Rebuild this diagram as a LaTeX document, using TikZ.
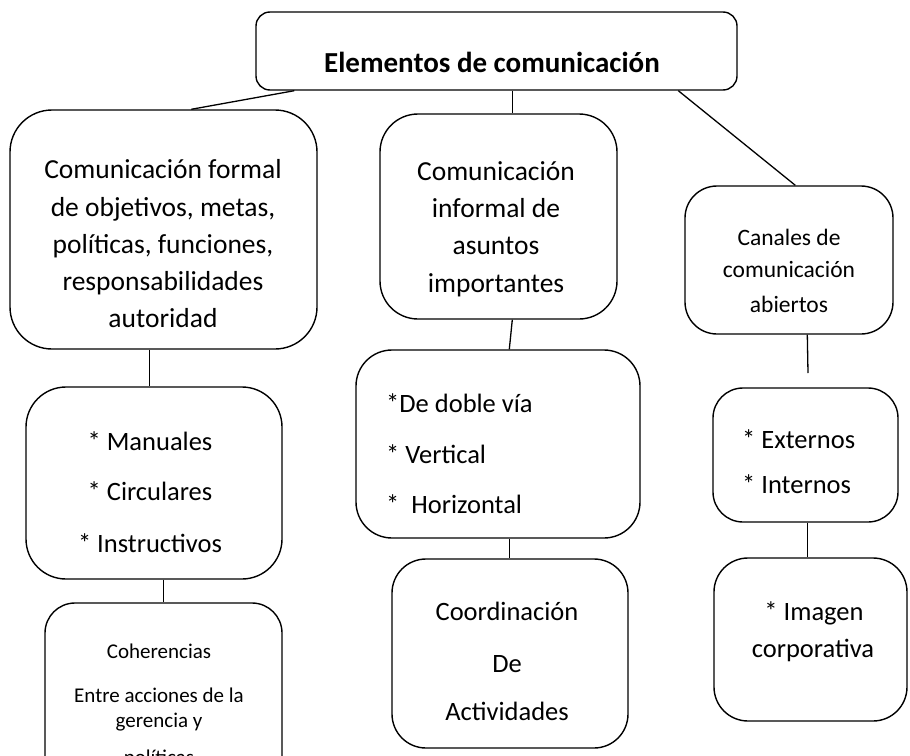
\documentclass[tikz,border=0pt]{standalone}
\usepackage{fontspec}
\setmainfont{Carlito}
\usetikzlibrary{calc}
\begin{document}
\begin{tikzpicture}[x=1pt,y=-1pt,
  box/.style={draw=black, line width=1.4pt, inner sep=0pt},
  conn/.style={draw=black, line width=1.3pt},
  txt/.style={anchor=base, inner sep=0pt, text=black},
  big/.style={txt, font=\fontsize{27.5}{33}\selectfont},
  med/.style={txt, font=\fontsize{26.5}{32}\selectfont},
  can/.style={txt, font=\fontsize{23.5}{28}\selectfont},
  sml/.style={txt, font=\fontsize{21}{25}\selectfont},
  ttl/.style={txt, font=\fontsize{29}{35}\selectfont\bfseries}]
\useasboundingbox (0,0) rectangle (910,755);
\clip (0,0) rectangle (910,755);
% boxes
\node[box, rounded corners=14pt, minimum width=481pt, minimum height=78pt] (top) at (496.5,51) {};
\node[box, rounded corners=42pt, minimum width=307pt, minimum height=239pt] (L1) at (163.5,229.5) {};
\node[box, rounded corners=38pt, minimum width=237pt, minimum height=205pt] (M1) at (498.5,216.5) {};
\node[box, rounded corners=32pt, minimum width=208pt, minimum height=148pt] (R1) at (789,260) {};
\node[box, rounded corners=40pt, minimum width=256pt, minimum height=192pt] (L2) at (154,483) {};
\node[box, rounded corners=36pt, minimum width=284pt, minimum height=188pt] (M2) at (498,444) {};
\node[box, rounded corners=30pt, minimum width=237pt, minimum height=187pt] (L3) at (163.5,696.5) {};
\node[box, rounded corners=34pt, minimum width=236pt, minimum height=189pt] (M3) at (510,653.5) {};
\node[box, rounded corners=30pt, minimum width=185pt, minimum height=134pt] (R2) at (805.5,455) {};
\node[box, rounded corners=34pt, minimum width=193pt, minimum height=163pt] (R3) at (810.5,639.5) {};
\coordinate (rend) at (808,373);
% connectors
\draw[conn] ($(top.south west)+(39,0)$) -- ($(L1.north west)+(182,0)$);
\draw[conn] ($(top.south west)+(257,0)$) -- ($(M1.north west)+(133,0)$);
\draw[conn] ($(top.south west)+(423,0)$) -- ($(R1.north west)+(111,0)$);
\draw[conn] ($(L1.south west)+(140,0)$) -- ($(L2.north west)+(124,0)$);
\draw[conn] ($(M1.south west)+(133,0)$) -- ($(M2.north west)+(154,0)$);
\draw[conn] ($(R1.south west)+(123,0)$) -- (rend);
\draw[conn] ($(L2.south west)+(138,0)$) -- ($(L3.north west)+(119,0)$);
\draw[conn] ($(M2.south west)+(154,0)$) -- ($(M3.north west)+(118,0)$);
\draw[conn] ($(R2.south west)+(95,0)$) -- ($(R3.north west)+(94,0)$);
% texts
\node[ttl] (t0) at (492,72) {Elementos de comunicación};
\node[big] (l1a) at (163,178) {Comunicación formal};
\node[big] (l1b) at (163,216) {de objetivos, metas,};
\node[big] (l1c) at (163,253) {políticas, funciones,};
\node[big] (l1d) at (163,290) {responsabilidades};
\node[big] (l1e) at (163,327) {autoridad};
\node[big] (m1a) at (496,180) {Comunicación};
\node[big] (m1b) at (496,217) {informal de};
\node[big] (m1c) at (496,254) {asuntos};
\node[big] (m1d) at (496,292) {importantes};
\node[can] (r1a) at (789,245) {Canales de};
\node[can] (r1b) at (789,277) {comunicación};
\node[can] (r1c) at (789,312) {abiertos};
\node[med] (l2a) at (150,450) {* Manuales};
\node[med] (l2b) at (150,500) {* Circulares};
\node[med] (l2c) at (150,552) {* Instructivos};
\node[med, anchor=base west] (m2a) at (386,412) {*De doble vía};
\node[med, anchor=base west] (m2b) at (386,463) {* Vertical};
\node[med, anchor=base west] (m2c) at (386,513) {*\ \ Horizontal};
\node[med] (m3a) at (507,620) {Coordinación};
\node[med] (m3b) at (507,672) {De};
\node[med] (m3c) at (507,720) {Actividades};
\node[med, anchor=base west] (r2a) at (742,448) {* Externos};
\node[med, anchor=base west] (r2b) at (742,493) {* Internos};
\node[med] (r3a) at (814,620) {* Imagen};
\node[med] (r3b) at (813,657) {corporativa};
\node[sml] (l3a) at (159,658) {Coherencias};
\node[sml] (l3b) at (159,702) {Entre acciones de la};
\node[sml] (l3c) at (159,727) {gerencia y};
\node[sml] (l3d) at (159,764) {políticas};
\end{tikzpicture}
\end{document}
